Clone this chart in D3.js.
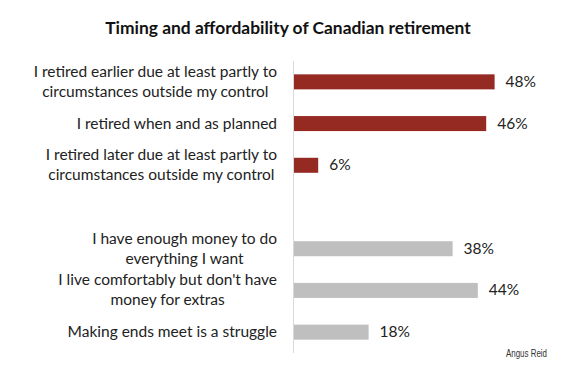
<!DOCTYPE html>
<html>
<head>
<meta charset="utf-8">
<script src="https://cdn.jsdelivr.net/npm/d3@7"></script>
<style>
  body { margin: 0; background: #fff; }
  svg { display: block; }
</style>
</head>
<body>
<svg id="chart" width="570" height="369"></svg>
<script>
// data
var timingLabels = [
    ["I retired earlier due at least partly to", "circumstances outside my control"],
    ["I retired when and as planned"],
    ["I retired later due at least partly to", "circumstances outside my control"]
];
var timingValues = [48, 46, 6];

var moneyLabels = [
    ["I have enough money to do", "everything I want"],
    ["I live comfortably but don't have", "money for extras"],
    ["Making ends meet is a struggle"]
];
var moneyValues = [38, 44, 18];

var title = "Timing and affordability of Canadian retirement";
var source = "Angus Reid";

// build rows (a blank slot separates the two groups)
var rows = [];
timingLabels.forEach(function(l, i) { rows.push({key: "t" + i, lines: l, value: timingValues[i], color: "#952a23"}); });
rows.push({key: "gap", lines: [], value: null});
moneyLabels.forEach(function(l, i) { rows.push({key: "m" + i, lines: l, value: moneyValues[i], color: "#bfbfbf"}); });

var svg = d3.select("#chart");
var axisX = 293;
var labelRight = 277;
var font = "Lato, 'Open Sans', sans-serif";

var x = d3.scaleLinear().domain([0, 60]).range([axisX, axisX + 252]);
var y = d3.scaleBand()
    .domain(rows.map(function(d) { return d.key; }))
    .range([61, 353])
    .paddingInner(0.64)
    .paddingOuter(0.32);

svg.append("text")
    .attr("x", 288)
    .attr("y", 34)
    .attr("text-anchor", "middle")
    .style("font-family", font)
    .style("font-weight", "bold")
    .style("font-size", "17.4px")
    .style("fill", "#111")
    .text(title);

// vertical axis line
svg.append("line")
    .attr("x1", axisX + 0.5).attr("x2", axisX + 0.5)
    .attr("y1", 61).attr("y2", 353)
    .style("stroke", "#d9d9d9")
    .style("stroke-width", 1);

var data = rows.filter(function(d) { return d.value != null; });

svg.selectAll("rect.bar")
    .data(data)
    .enter().append("rect")
    .attr("class", "bar")
    .attr("x", x(0) + 1)
    .attr("y", function(d) { return y(d.key); })
    .attr("width", function(d) { return x(d.value) - x(0) - 1; })
    .attr("height", y.bandwidth())
    .style("fill", function(d) { return d.color; });

svg.selectAll("text.val")
    .data(data)
    .enter().append("text")
    .attr("class", "val")
    .attr("x", function(d) { return x(d.value) + 11; })
    .attr("y", function(d) { return y(d.key) + y.bandwidth() / 2 + 5; })
    .style("font-family", font)
    .style("font-size", "15.5px")
    .style("fill", "#222")
    .text(function(d) { return d.value + "%"; });

// category labels: lines centred on each other, block right aligned
var labels = svg.selectAll("g.lab")
    .data(data)
    .enter().append("g")
    .attr("class", "lab");

labels.each(function(d) {
    var g = d3.select(this);
    var cy = y(d.key) + y.bandwidth() / 2;
    var n = d.lines.length;
    var t = g.append("text")
        .attr("text-anchor", "middle")
        .style("font-family", font)
        .style("font-size", "15.5px")
        .style("fill", "#222");
    d.lines.forEach(function(line, i) {
        t.append("tspan")
            .attr("x", 0)
            .attr("y", cy + 5 + (i - (n - 1) / 2) * 20)
            .text(line);
    });
    var w = 0;
    t.selectAll("tspan").each(function() { w = Math.max(w, this.getComputedTextLength()); });
    g.attr("transform", "translate(" + (labelRight - w / 2) + ",0)");
});

svg.append("text")
    .attr("x", 547)
    .attr("y", 357)
    .attr("text-anchor", "end")
    .attr("textLength", 41)
    .attr("lengthAdjust", "spacingAndGlyphs")
    .style("font-family", "'Liberation Sans', Arial, sans-serif")
    .style("font-size", "11.5px")
    .style("fill", "#333")
    .text(source);
</script>
</body>
</html>
